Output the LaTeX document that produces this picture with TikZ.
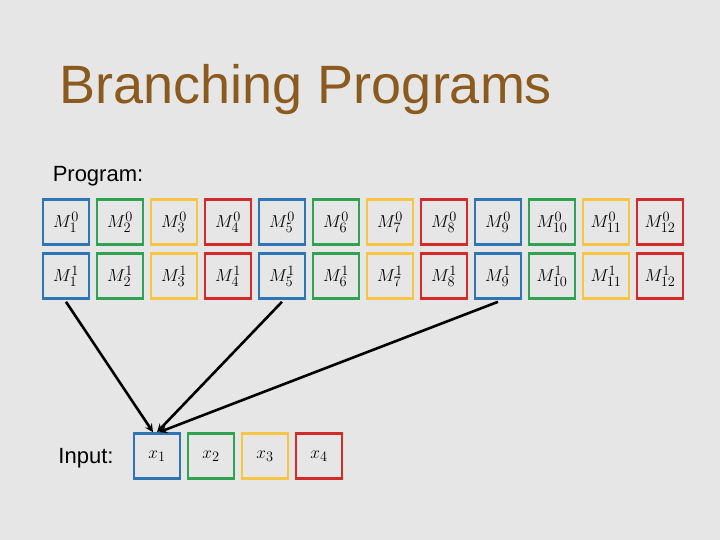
\documentclass[tikz,border=0pt]{standalone}
\usepackage{fontspec}
\setmainfont{Liberation Sans}
\usetikzlibrary{positioning}
\definecolor{bgray}{HTML}{E6E6E6}
\definecolor{cblue}{HTML}{2E75B6}
\definecolor{cgreen}{HTML}{30A352}
\definecolor{cyellow}{HTML}{F7C443}
\definecolor{cred}{HTML}{D42A2A}
\definecolor{ctitle}{HTML}{8B5A1E}
\begin{document}
\begin{tikzpicture}[
x=1pt, y=-1pt,
cell/.style = {draw, line width=2.6pt, minimum width=46pt, minimum height=45pt, inner sep=0pt, font=\fontsize{19}{19}\selectfont},
link/.style = {->, line width=2.6pt, >=stealth} ]
\fill[bgray] (0,0) rectangle (720,540);
\useasboundingbox (0,0) rectangle (720,540);
\node[text=ctitle, font=\fontsize{54}{54}\selectfont] (title) at (306,90) {Branching Programs};
\node[font=\fontsize{22}{22}\selectfont] (prog) at (98,176) {Program:};
\node[font=\fontsize{22}{22}\selectfont] (inp) at (86,458) {Input:};

\foreach \i/\c in {1/cblue,2/cgreen,3/cyellow,4/cred,5/cblue,6/cgreen,7/cyellow,8/cred,9/cblue,10/cgreen,11/cyellow,12/cred} {
  \node[cell, draw=\c] (a\i) at ({66+54*(\i-1)},222) {$M_{\i}^{0}$};
  \node[cell, draw=\c] (b\i) at ({66+54*(\i-1)},276) {$M_{\i}^{1}$};
}
\foreach \i/\c in {1/cblue,2/cgreen,3/cyellow,4/cred} {
  \node[cell, draw=\c] (x\i) at ({157+54*(\i-1)},456) {$x_{\i}$};
}

\draw[link] (b1.south) ++(0,2) -- ([xshift=-4pt]x1.north);
\draw[link] (b5.south) ++(0,2) -- (x1.north);
\draw[link] (b9.south) ++(0,2) -- ([xshift=2pt]x1.north);
\end{tikzpicture}
\end{document}
